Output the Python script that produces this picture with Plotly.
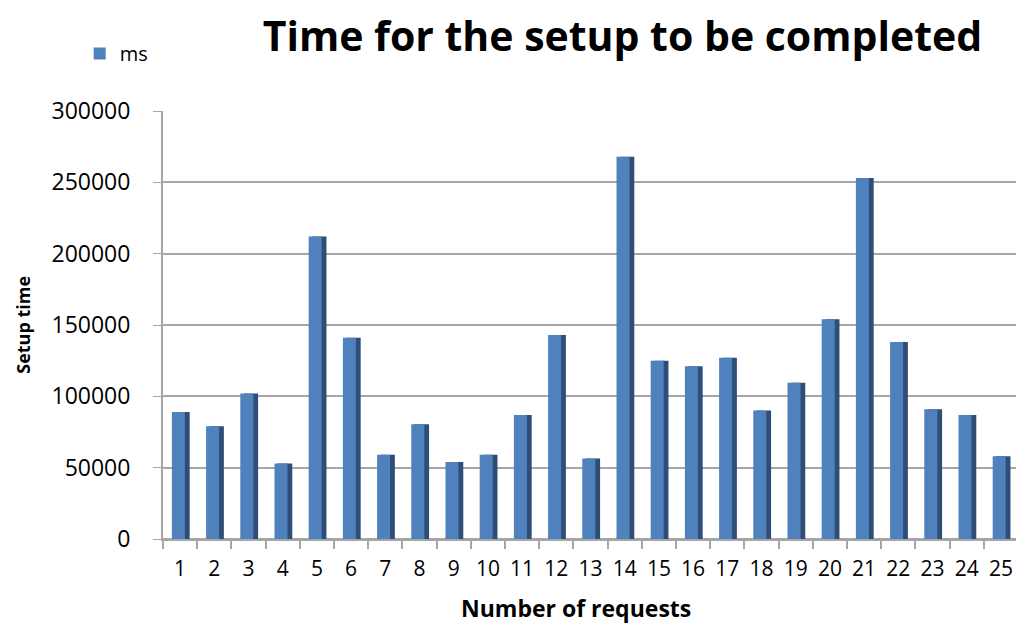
import plotly.graph_objects as go

requests = [str(i) for i in range(1, 26)]
setup_ms = [89000, 79000, 102000, 53000, 212000, 141000, 59000, 80500, 54000, 59000,
            87000, 143000, 56500, 268000, 125000, 121000, 127000, 90000, 109500, 154000,
            253000, 138000, 91000, 87000, 58000]
y_ticks = [0, 50000, 100000, 150000, 200000, 250000, 300000]

BLUE = "#4F81BD"
SIDE = "#2F4E77"
GRID = "#A6A6A6"

fig = go.Figure()

# darker side face to mimic Excel's 3D column
fig.add_trace(go.Bar(
    x=requests, y=setup_ms, width=0.42, offset=-0.14,
    marker=dict(color=SIDE, line=dict(width=0)),
    showlegend=False, hoverinfo="skip"
))
fig.add_trace(go.Bar(
    x=requests, y=setup_ms, width=0.38, offset=-0.24,
    name="ms",
    marker=dict(color=BLUE, line=dict(width=0))
))

fig.update_layout(
    width=1024, height=632,
    barmode="overlay",
    plot_bgcolor="white",
    paper_bgcolor="white",
    font=dict(family="Open Sans, sans-serif", size=19, color="#000000"),
    title=dict(
        text="<b>Time for the setup to be completed</b>",
        font=dict(size=41, color="#000000"),
        x=0.6, xanchor="center", y=0.955, yanchor="middle"
    ),
    margin=dict(l=155, r=14, t=103, b=101, autoexpand=False),
    legend=dict(
        xref="container", yref="container",
        x=0.07, y=0.928, xanchor="left", yanchor="middle",
        font=dict(size=20), bgcolor="rgba(0,0,0,0)",
        itemwidth=30
    ),
    showlegend=True,
    annotations=[
        dict(
            text="<b>Setup time</b>",
            xref="paper", yref="paper",
            x=-0.164, y=0.5, xanchor="center", yanchor="middle",
            textangle=-90, showarrow=False,
            font=dict(size=18)
        ),
        dict(
            text="<b>Number of requests</b>",
            xref="paper", yref="paper",
            x=0.483, y=-0.162, xanchor="center", yanchor="middle",
            showarrow=False,
            font=dict(size=23)
        ),
    ]
)

fig.update_xaxes(
    type="category",
    automargin=False,
    showgrid=False,
    showline=True, linecolor=GRID, linewidth=2,
    ticks="outside", ticklen=8, tickcolor=GRID, tickwidth=1.5,
    tickson="boundaries",
    tickangle=0,
    ticklabelstandoff=10,
    tickfont=dict(size=21, family="Liberation Sans Narrow, Open Sans, sans-serif")
)
fig.update_yaxes(
    range=[0, 300000],
    automargin=False,
    tickvals=y_ticks,
    tickformat="d",
    showgrid=True, gridcolor=GRID, gridwidth=2,
    showline=True, linecolor=GRID, linewidth=2,
    ticks="outside", ticklen=8, tickcolor=GRID,
    ticklabelstandoff=18,
    tickfont=dict(size=23),
    zeroline=True, zerolinecolor=GRID, zerolinewidth=2
)

fig.write_html("out.html")
